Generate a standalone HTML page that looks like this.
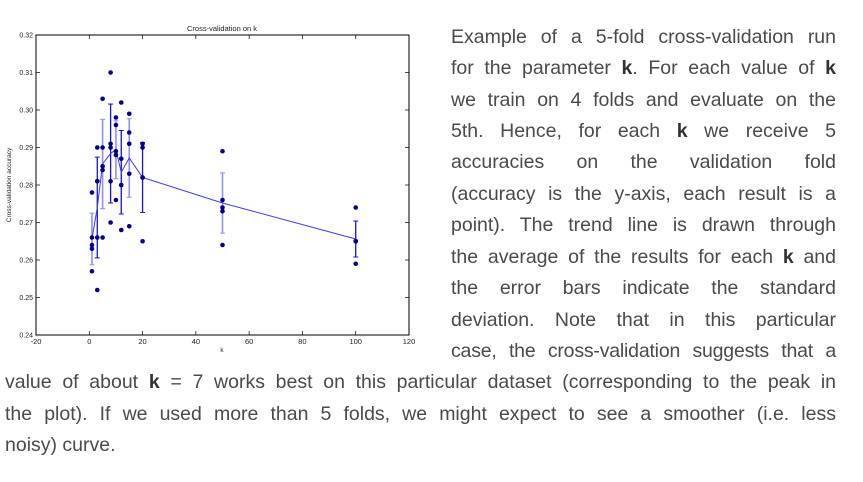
<!DOCTYPE html>
<html><head><meta charset="utf-8"><style>
body{margin:0;width:863px;height:482px;background:#fff;overflow:hidden;position:relative;font-family:"Liberation Sans",sans-serif}
#chart{position:absolute;left:0;top:0}
.ln{position:absolute;font-size:19.5px;color:#4a4a4a;text-align:justify;text-align-last:justify;white-space:nowrap;height:31px;line-height:31px}
.ln.j{white-space:normal}
.ln b{color:#333}
</style></head><body>
<svg id="chart" width="430" height="360" xmlns="http://www.w3.org/2000/svg"></svg>
<div>
<div class="ln j" style="left:451px;top:22px;width:385px">Example of a 5-fold cross-validation run</div>
<div class="ln j" style="left:451px;top:53px;width:385px">for the parameter <b>k</b>. For each value of <b>k</b></div>
<div class="ln j" style="left:451px;top:85px;width:385px">we train on 4 folds and evaluate on the</div>
<div class="ln j" style="left:451px;top:116px;width:385px">5th. Hence, for each <b>k</b> we receive 5</div>
<div class="ln j" style="left:451px;top:147px;width:385px">accuracies on the validation fold</div>
<div class="ln j" style="left:451px;top:179px;width:385px">(accuracy is the y-axis, each result is a</div>
<div class="ln j" style="left:451px;top:210px;width:385px">point). The trend line is drawn through</div>
<div class="ln j" style="left:451px;top:242px;width:385px">the average of the results for each <b>k</b> and</div>
<div class="ln j" style="left:451px;top:273px;width:385px">the error bars indicate the standard</div>
<div class="ln j" style="left:451px;top:305px;width:385px">deviation. Note that in this particular</div>
<div class="ln j" style="left:451px;top:336px;width:385px;letter-spacing:-0.2px">case, the cross-validation suggests that a</div>
<div class="ln j" style="left:5px;top:367px;width:831px">value of about <b>k</b> = 7 works best on this particular dataset (corresponding to the peak in</div>
<div class="ln j" style="left:5px;top:399px;width:831px">the plot). If we used more than 5 folds, we might expect to see a smoother (i.e. less</div>
<div class="ln" style="left:5px;top:430px;text-align:left;text-align-last:left">noisy) curve.</div>
</div>
<script>
const ks=[1,3,5,8,10,12,15,20,50,100];
const acc=[
[0.278,0.266,0.264,0.263,0.257],
[0.290,0.281,0.281,0.266,0.252],
[0.303,0.290,0.285,0.284,0.266],
[0.310,0.291,0.290,0.281,0.270],
[0.298,0.296,0.289,0.288,0.276],
[0.302,0.287,0.280,0.280,0.268],
[0.299,0.294,0.291,0.283,0.269],
[0.291,0.290,0.282,0.282,0.265],
[0.289,0.276,0.274,0.273,0.264],
[0.274,0.265,0.265,0.265,0.259]];
const xTicks=[-20,0,20,40,60,80,100,120];
const yTicks=[0.24,0.25,0.26,0.27,0.28,0.29,0.30,0.31,0.32];
const X0=36,X1=409,Y0=335,Y1=35;
const sx=v=>X0+(v+20)/140*(X1-X0);
const sy=v=>Y0-(v-0.24)/0.08*(Y0-Y1);
const svg=document.getElementById('chart');
const NS='http://www.w3.org/2000/svg';
function mk(t,a,p){const e=document.createElementNS(NS,t);for(const k in a)e.setAttribute(k,a[k]);(p||svg).appendChild(e);return e;}
let e;
e=mk('rect',{x:X0,y:Y1,width:X1-X0,height:Y0-Y1,fill:'none',stroke:'#000','stroke-width':1});

xTicks.forEach(t=>{const x=sx(t);
mk('line',{x1:x,x2:x,y1:Y0,y2:Y0-4,stroke:'#000','stroke-width':0.7});
mk('line',{x1:x,x2:x,y1:Y1,y2:Y1+4,stroke:'#000','stroke-width':0.7});
e=mk('text',{x:x,y:Y0+9,'font-size':7.5,'text-anchor':'middle',fill:'#222'});e.textContent=t;
});
yTicks.forEach(t=>{const y=sy(t);
mk('line',{x1:X0,x2:X0+4,y1:y,y2:y,stroke:'#000','stroke-width':0.7});
mk('line',{x1:X1,x2:X1-4,y1:y,y2:y,stroke:'#000','stroke-width':0.7});
e=mk('text',{x:X0-3,y:y+2.5,'font-size':7,'text-anchor':'end',fill:'#222'});e.textContent=t.toFixed(2);
});
e=mk('text',{x:222,y:31,'font-size':7.5,'text-anchor':'middle',fill:'#222'});e.textContent='Cross-validation on k';

e=mk('text',{x:222,y:352,'font-size':6.5,'text-anchor':'middle',fill:'#222'});e.textContent='k';

e=mk('text',{x:0,y:0,'font-size':6.5,'text-anchor':'middle',fill:'#222',transform:'translate(11,185) rotate(-90)'});e.textContent='Cross-validation accuracy';

const means=acc.map(a=>a.reduce((s,v)=>s+v,0)/a.length);
const stds=acc.map((a,i)=>Math.sqrt(a.reduce((s,v)=>s+(v-means[i])**2,0)/a.length));
ks.forEach((k,i)=>{const col=i%2==0?'#8f8fff':'#1515d0';const x=sx(k);
const g=mk('g',{});
mk('line',{x1:x,x2:x,y1:sy(means[i]-stds[i]),y2:sy(means[i]+stds[i]),stroke:col,'stroke-width':i%2==0?1.6:1.3},g);
[means[i]-stds[i],means[i]+stds[i]].forEach(v=>mk('line',{x1:x-2.5,x2:x+2.5,y1:sy(v),y2:sy(v),stroke:col,'stroke-width':1},g));});
e=mk('polyline',{points:ks.map((k,i)=>sx(k)+','+sy(means[i])).join(' '),fill:'none',stroke:'#3a3aff','stroke-width':1});

ks.forEach((k,i)=>acc[i].forEach(v=>{
e=mk('circle',{cx:sx(k),cy:sy(v),r:2.3,fill:'#00008b'});
}));
</script>
</body></html>
